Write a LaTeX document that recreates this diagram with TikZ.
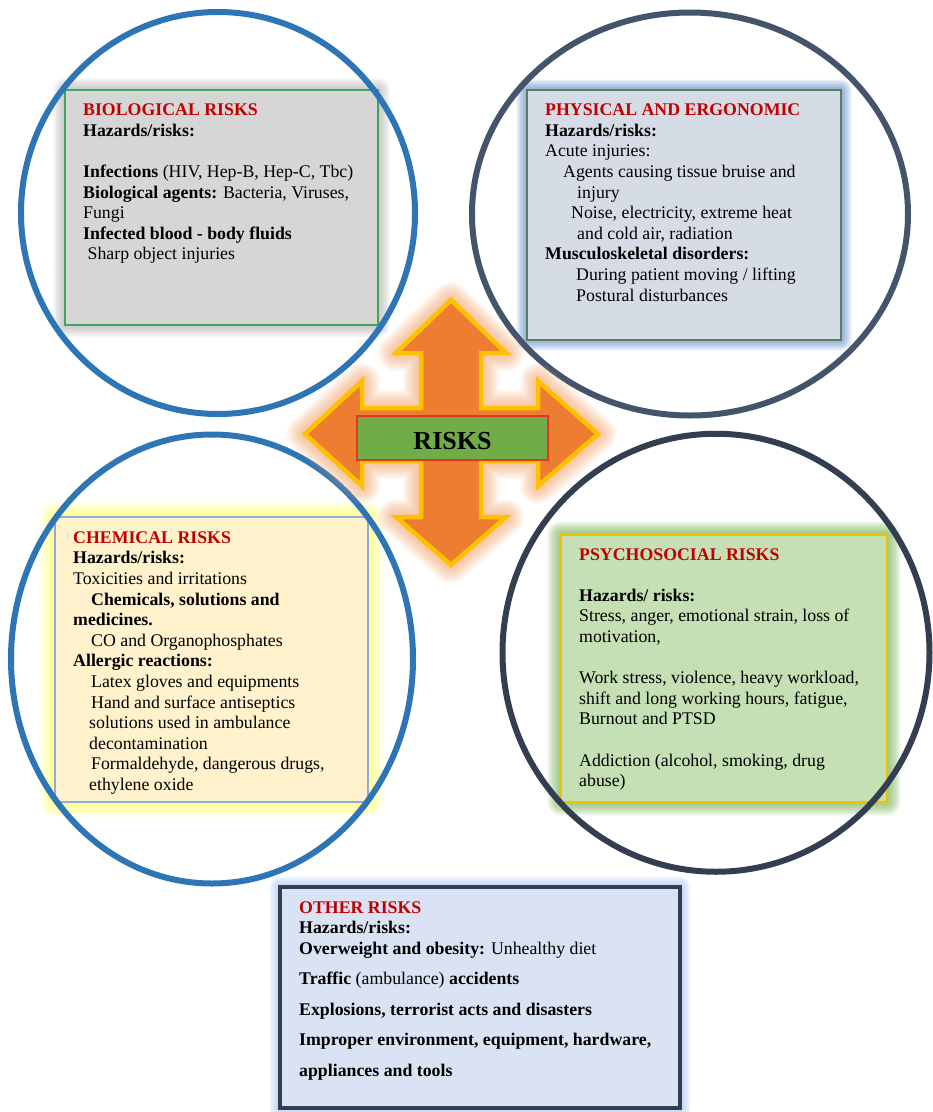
\documentclass[tikz,border=0pt]{standalone}
\usepackage{fontspec}
\setmainfont{Liberation Serif}
\usetikzlibrary{calc}
\definecolor{titred}{HTML}{C00000}
\definecolor{cblue}{HTML}{2E75B6}
\definecolor{cslate}{HTML}{44546A}
\definecolor{cnavy}{HTML}{333F50}
\definecolor{arrfill}{HTML}{ED7D31}
\definecolor{arrline}{HTML}{FFC000}
\definecolor{arrglowc}{HTML}{F4A060}
\definecolor{riskgreen}{HTML}{70AD47}
\definecolor{riskred}{HTML}{E8361E}
\definecolor{biofill}{HTML}{D6D6D6}
\definecolor{bioline}{HTML}{3FA55A}
\definecolor{phyfill}{HTML}{D6DCE5}
\definecolor{phyline}{HTML}{55805A}
\definecolor{phyglow}{HTML}{4472C4}
\definecolor{chefill}{HTML}{FFF2CC}
\definecolor{cheline}{HTML}{8FAADC}
\definecolor{cheglow}{HTML}{FFFF40}
\definecolor{psyfill}{HTML}{C5E0B4}
\definecolor{psyline}{HTML}{F0C000}
\definecolor{psyglow}{HTML}{70AD47}
\definecolor{othfill}{HTML}{DAE3F3}
\definecolor{othline}{HTML}{333F50}
\definecolor{othglow}{HTML}{8FB4F0}
\newcommand{\bodyfont}{\fontsize{17.8}{20.6}\selectfont}
\newcommand{\glowrect}[7]{%
  \foreach \i [evaluate=\i as \r using 1.5*\i] in {1,...,#6}{%
    \fill[#5, fill opacity=#7, rounded corners=\r pt] (#1-\r,#2-\r) rectangle (#3+\r,#4+\r);}}
\newcommand{\arrowshape}{(451,300) -- (506,353) -- (481,353) -- (481,408) -- (538,408) -- (538,381)
  -- (598,434) -- (538,486) -- (538,461) -- (481,461) -- (481,517) -- (506,517)
  -- (451,565) -- (396,517) -- (421,517) -- (421,461) -- (362,461) -- (362,486)
  -- (305,434) -- (362,381) -- (362,408) -- (421,408) -- (421,353) -- (396,353)
  -- cycle}
\tikzset{
  ring/.style={line width=6pt},
  boxnode/.style={anchor=north west, inner sep=0pt, outer sep=0pt},
  ln/.style={anchor=base west, inner sep=0pt, font=\bodyfont},
  bln/.style={anchor=base west, inner sep=0pt, font=\bodyfont\bfseries},
  ttl/.style={anchor=base west, inner sep=0pt, text=titred, font=\bodyfont\bfseries}
}
\begin{document}
\begin{tikzpicture}[x=1pt,y=-1pt]
\useasboundingbox (0,0) rectangle (933,1112);
\fill[white] (0,0) rectangle (933,1112);

% glows
\glowrect{65}{90}{378}{325}{black!40}{8}{0.08}
\glowrect{527}{90}{841}{340}{phyglow}{7}{0.1}
\glowrect{55}{517}{368}{802}{cheglow}{10}{0.08}
\glowrect{561}{535}{887}{802}{psyglow}{9}{0.1}
\glowrect{280}{887}{680}{1108}{othglow}{7}{0.1}

% boxes
\node[boxnode, draw=bioline, fill=biofill, line width=1.6pt, minimum width=313pt, minimum height=235pt] (biobox) at (65,90) {};
\node[boxnode, draw=phyline, fill=phyfill, line width=1.6pt, minimum width=314pt, minimum height=250pt] (phybox) at (527,90) {};
\node[boxnode, draw=cheline, fill=chefill, line width=1.6pt, minimum width=313pt, minimum height=285pt] (chebox) at (55,517) {};
\node[boxnode, draw=psyline, fill=psyfill, line width=1.6pt, minimum width=326pt, minimum height=267pt] (psybox) at (561,535) {};
\node[boxnode, draw=othline, fill=othfill, line width=4.5pt, minimum width=400pt, minimum height=221pt] (othbox) at (280,887) {};

% circles
\draw[ring, cblue] (218,213) ellipse [x radius=197, y radius=201];
\draw[ring, cslate] (690,214) ellipse [x radius=218, y radius=201.5];
\draw[ring, cblue] (212,659) ellipse [x radius=201, y radius=224.5];
\draw[ring, cnavy] (716,652.75) ellipse [x radius=213.5, y radius=219];

% central cross arrow with soft glow
\foreach \w in {36,33,30,27,24,21,18,15,12,9}{
  \draw[arrglowc, draw opacity=0.07, line width=\w pt, line join=round] \arrowshape;}
\filldraw[fill=arrfill, draw=arrline, line width=4.5pt, line join=miter] \arrowshape;
\node[draw=riskred, fill=riskgreen, line width=1.5pt, minimum width=191pt, minimum height=44pt, inner sep=0pt] (risks) at (452.5,438) {};
\node[anchor=base, inner sep=0pt, font=\fontsize{26}{30}\selectfont\bfseries] (riskslbl) at (452.5,449) {RISKS};

% biological
\node[ttl] (b1) at (83,115.7) {BIOLOGICAL RISKS};
\node[bln] (b2) at (83,136.3) {Hazards/risks:};
\node[ln] (b3) at (83,177.5) {\textbf{Infections} (HIV, Hep-B, Hep-C, Tbc)};
\node[ln] (b4) at (83,198.1) {\textbf{Biological agents:} Bacteria, Viruses,};
\node[ln] (b5) at (83,218.7) {Fungi};
\node[bln] (b6) at (83,239.3) {Infected blood - body fluids};
\node[ln] (b7) at (87.5,259.9) {Sharp object injuries};

% physical
\node[ttl] (p1) at (545,115.7) {PHYSICAL AND ERGONOMIC};
\node[bln] (p2) at (545,136.3) {Hazards/risks:};
\node[ln] (p3) at (545,156.9) {Acute injuries:};
\node[ln] (p4) at (563,177.5) {Agents causing tissue bruise and};
\node[ln] (p5) at (577,198.1) {injury};
\node[ln] (p6) at (571,218.7) {Noise, electricity, extreme heat};
\node[ln] (p7) at (577,239.3) {and cold air, radiation};
\node[bln] (p8) at (545,259.9) {Musculoskeletal disorders:};
\node[ln] (p9) at (576,280.5) {During patient moving / lifting};
\node[ln] (p10) at (576,301.1) {Postural disturbances};

% chemical
\node[ttl] (c1) at (73,543.3) {CHEMICAL RISKS};
\node[bln] (c2) at (73,563.9) {Hazards/risks:};
\node[ln] (c3) at (73,584.5) {Toxicities and irritations};
\node[bln] (c4) at (91,605.1) {Chemicals, solutions and};
\node[bln] (c5) at (73,625.7) {medicines.};
\node[ln] (c6) at (91,646.3) {CO and Organophosphates};
\node[bln] (c7) at (73,666.9) {Allergic reactions:};
\node[ln] (c8) at (91,687.5) {Latex gloves and equipments};
\node[ln] (c9) at (91,708.1) {Hand and surface antiseptics};
\node[ln] (c10) at (89,728.7) {solutions used in ambulance};
\node[ln] (c11) at (89,749.3) {decontamination};
\node[ln] (c12) at (91,769.9) {Formaldehyde, dangerous drugs,};
\node[ln] (c13) at (89,790.5) {ethylene oxide};

% psychosocial
\node[ttl] (s1) at (579,560) {PSYCHOSOCIAL RISKS};
\node[bln] (s2) at (579,601.2) {Hazards/ risks:};
\node[ln] (s3) at (579,621.8) {Stress, anger, emotional strain, loss of};
\node[ln] (s4) at (579,642.4) {motivation,};
\node[ln] (s5) at (579,683.6) {Work stress, violence, heavy workload,};
\node[ln] (s6) at (579,704.2) {shift and long working hours, fatigue,};
\node[ln] (s7) at (579,724.8) {Burnout and PTSD};
\node[ln] (s8) at (579,766) {Addiction (alcohol, smoking, drug};
\node[ln] (s9) at (579,786.6) {abuse)};

% other
\node[ttl] (o1) at (299,913.3) {OTHER RISKS};
\node[bln] (o2) at (299,933.6) {Hazards/risks:};
\node[ln] (o3) at (299,954) {\textbf{Overweight and obesity:} Unhealthy diet};
\node[ln] (o4) at (299,984.5) {\textbf{Traffic} (ambulance) \textbf{accidents}};
\node[bln] (o5) at (299,1015.5) {Explosions, terrorist acts and disasters};
\node[bln] (o6) at (299,1045.7) {Improper environment, equipment, hardware,};
\node[bln] (o7) at (299,1076.5) {appliances and tools};
\end{tikzpicture}
\end{document}
